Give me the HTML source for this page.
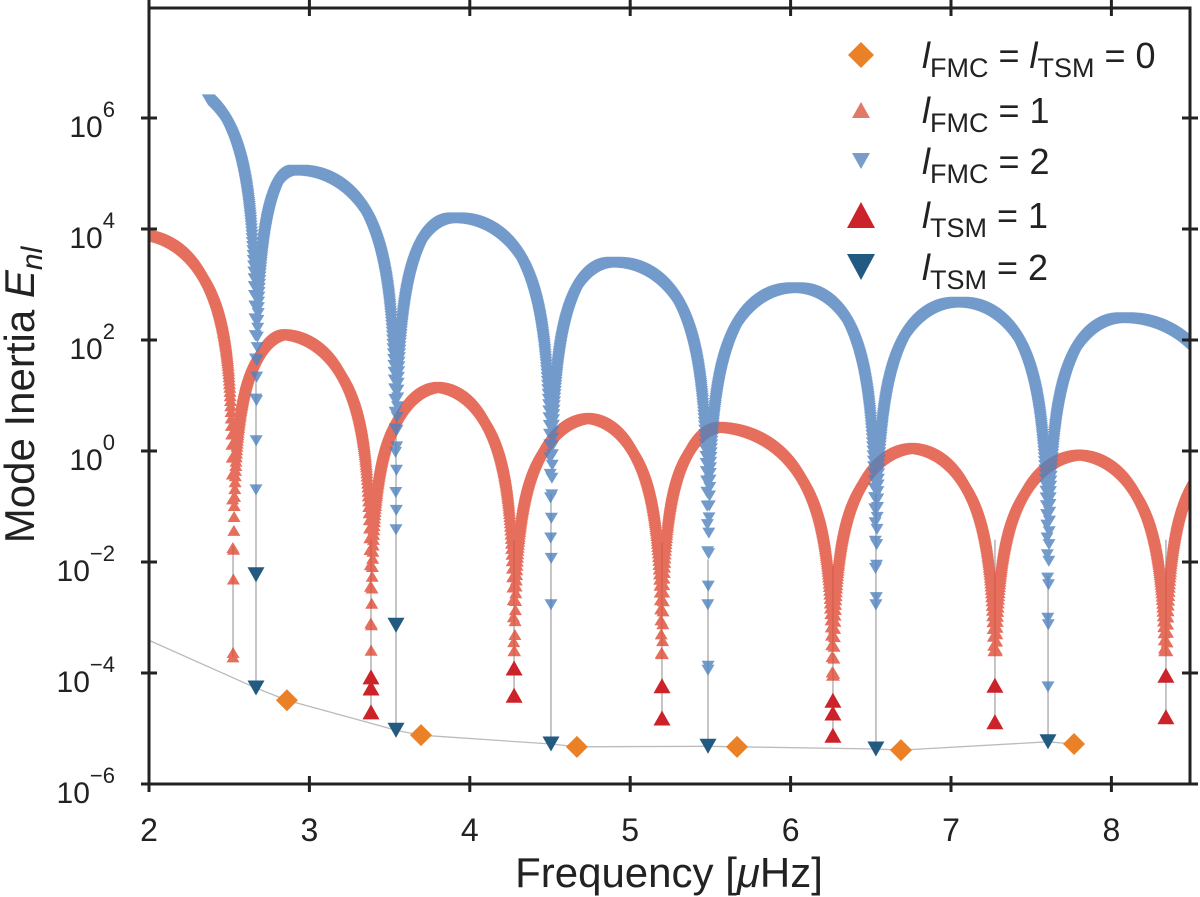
<!DOCTYPE html>
<html><head><meta charset="utf-8">
<style>
html,body{margin:0;padding:0;background:#fff;}
svg{display:block;font-family:"Liberation Sans","DejaVu Sans",sans-serif;}
</style></head>
<body>
<svg id="chart" width="1200" height="897" viewBox="0 0 1200 897" xmlns="http://www.w3.org/2000/svg">
<defs><clipPath id="plotclip"><rect x="150" y="9" width="1040" height="774"/></clipPath></defs>
<g id="plot" clip-path="url(#plotclip)"></g>
<g id="axes"></g>
<g id="legend"></g>
</svg>
<script>
// ---- data (frequency in μHz, values as log10 of mode inertia) ----
const xTicks = [2, 3, 4, 5, 6, 7, 8];
const yTicks = [-6, -4, -2, 0, 2, 4, 6];
// FMC l=2 (blue) arcs
const blueDips = [1.6, 2.667, 3.540, 4.506, 5.485, 6.532, 7.605, 8.79];
const bluePeakF = [2.1, 2.92, 3.91, 4.9, 6.03, 7.05, 8.08];
const bluePeakV = [6.65, 5.06, 4.2, 3.4, 2.94, 2.68, 2.4];
const blueFloor = [null, -0.70, -1.42, -2.77, -3.95, -2.77, -4.25, null];
const blueStart = 2.37;
// FMC l=1 (red) arcs
const redDips = [1.3, 2.524, 3.384, 4.276, 5.198, 6.264, 7.274, 8.340, 9.4];
const redPeakF = [1.95, 2.84, 3.80, 4.74, 5.55, 6.757, 7.80, 8.9];
const redPeakV = [3.9, 2.1, 1.15, 0.59, 0.43, 0.05, -0.07, 0.25];
const redFloor = [null, -3.71, -3.59, -3.6, -3.65, -4.04, -3.6, -3.6, null];
// TSM l=2
const tsm2F = [2.667, 2.667, 3.540, 3.540, 4.506, 5.485, 6.532, 7.605];
const tsm2V = [-2.23, -4.27, -3.14, -5.03, -5.28, -5.32, -5.37, -5.24];
// TSM l=1
const tsm1F = [3.384, 3.384, 3.384, 4.276, 4.276, 5.198, 5.198, 6.264, 6.264, 6.264, 7.274, 7.274, 8.340, 8.340];
const tsm1V = [-4.07, -4.27, -4.70, -3.91, -4.40, -4.23, -4.81, -4.49, -4.72, -5.12, -4.22, -4.88, -4.04, -4.79];
// l=0
const l0F = [2.860, 3.696, 4.668, 5.666, 6.688, 7.767];
const l0V = [-4.49, -5.12, -5.33, -5.33, -5.39, -5.28];
// radial reference line
const lineF = [2.0, 2.667, 2.860, 3.540, 3.696, 4.506, 4.668, 5.485, 5.666, 6.532, 6.688, 7.605, 7.767];
const lineV = [-3.41, -4.27, -4.49, -5.03, -5.12, -5.28, -5.33, -5.32, -5.33, -5.37, -5.39, -5.24, -5.28];

// ---- axes scales ----
const X0 = 149, XS = 160.4, Y0 = 784, YS = 55.5;
const sx = f => X0 + (f - 2) * XS;
const sy = v => Y0 - (v + 6) * YS;
const NS = "http://www.w3.org/2000/svg";
function mk(tag, attrs, parent) {
  const e = document.createElementNS(NS, tag);
  for (const k in attrs) e.setAttribute(k, attrs[k]);
  parent.appendChild(e); return e;
}
const plot = document.getElementById('plot');
const axes = document.getElementById('axes');
const legend = document.getElementById('legend');

function arcVal(f, dips, pf, pv, floors, A) {
  let i = 0;
  while (i < dips.length - 2 && f >= dips[i + 1]) i++;
  const d0 = dips[i], d1 = dips[i + 1], p = pf[i];
  let ph = f < p ? 0.5 * (f - d0) / (p - d0) : 0.5 + 0.5 * (f - p) / (d1 - p);
  const s = Math.sin(Math.PI * ph);
  let v = s > 0 ? pv[i] + A * Math.log10(s) : -99;
  const nd = (f - d0) < (d1 - f) ? i : i + 1;
  const fl = floors[nd];
  if (fl !== null && v < fl) v = fl;
  return v;
}
function tri(cx, cy, w, h, up) {
  cx = +(+cx).toFixed(1); cy = +(+cy).toFixed(1);
  return up ? `M${cx - w},${cy + h / 2}L${cx + w},${cy + h / 2}L${cx},${cy - h / 2}Z`
            : `M${cx - w},${cy - h / 2}L${cx + w},${cy - h / 2}L${cx},${cy + h / 2}Z`;
}

// reference line for l=0
const lp = lineF.map((f, i) => `${i ? 'L' : 'M'}${sx(f).toFixed(1)},${sy(lineV[i]).toFixed(1)}`).join('');
const refLine = mk('path', {d: lp, fill: 'none', stroke: '#bbbbbb', 'stroke-width': 1.3}, plot);



// stems
const stemG = mk('g', {}, plot);


function stems(dips, floors, tF, tV) {
  for (let i = 1; i < dips.length - 1; i++) {
    const d = dips[i];
    let low = floors[i];
    tF.forEach((f, j) => { if (Math.abs(f - d) < 0.01) low = Math.min(low, tV[j]); });
    mk('line', {x1: sx(d), x2: sx(d), y1: sy(floors[i] + 2), y2: sy(low), stroke: '#bfbfbf', 'stroke-width': 1.8}, stemG);
  }
}
stems(redDips, redFloor, tsm1F, tsm1V);
stems(blueDips, blueFloor, tsm2F, tsm2V);

// FMC series as dense markers
function series(dips, pf, pv, floors, A, start, color, up, name) {
  const g = mk('g', {fill: color, 'fill-opacity': 0.8}, plot);
  
  
  let d = '';
  for (let f = start; f <= 8.55; f += 0.0015) {
    const v = arcVal(f, dips, pf, pv, floors, A);
    d += tri(sx(f), sy(v), 6.5, 11, up);
  }
  for (let i = 1; i < dips.length - 1; i++) {
    if (floors[i] !== null) d += tri(sx(dips[i]), sy(floors[i]), 6.5, 11, up);
  }
  mk('path', {d: d}, g);
}
series(redDips, redPeakF, redPeakV, redFloor, 2.2, 1.98, '#e04a35', true, 'fmc-l1-series');
series(blueDips, bluePeakF, bluePeakV, blueFloor, 2.4, blueStart, '#4f82bf', false, 'fmc-l2-series');

// TSM markers
const t1g = mk('g', {fill: '#cc2229'}, plot);


tsm1F.forEach((f, i) => {
  const m = mk('path', {d: tri(sx(f), sy(tsm1V[i]), 8.5, 15, true)}, t1g);
  
  
});
const t2g = mk('g', {fill: '#225a82'}, plot);


tsm2F.forEach((f, i) => {
  const m = mk('path', {d: tri(sx(f), sy(tsm2V[i]), 8.5, 15, false)}, t2g);
  
  
});
const l0g = mk('g', {fill: '#ea8126'}, plot);


l0F.forEach((f, i) => {
  const cx = sx(f), cy = sy(l0V[i]);
  const m = mk('path', {d: `M${cx},${cy - 11}L${cx + 11},${cy}L${cx},${cy + 11}L${cx - 11},${cy}Z`}, l0g);
  
  
});

// axes frame
const frame = mk('rect', {x: 149, y: 8, width: 1041, height: 776, fill: 'none', stroke: '#222', 'stroke-width': 3}, axes);


xTicks.forEach((t, i) => {
  const x = sx(t);
  mk('line', {x1: x, x2: x, y1: 776, y2: 792, stroke: '#222', 'stroke-width': 3}, axes);
  mk('line', {x1: x, x2: x, y1: 0, y2: 16, stroke: '#222', 'stroke-width': 3}, axes);
  const tl = mk('text', {x: x, y: 841, 'text-anchor': 'middle', 'font-size': 32, fill: '#222'}, axes);
  tl.textContent = t;
  
  
});
yTicks.forEach(t => {
  const y = sy(t);
  mk('line', {x1: 141, x2: 157, y1: y, y2: y, stroke: '#222', 'stroke-width': 3}, axes);
  mk('line', {x1: 1182, x2: 1198, y1: y, y2: y, stroke: '#222', 'stroke-width': 3}, axes);
  const tl = mk('text', {x: 115, y: y + 19, 'text-anchor': 'end', 'font-size': 30, fill: '#222'}, axes);
  
  
  tl.innerHTML = `10<tspan dy="-20" font-size="22">${t < 0 ? '\u2212' + (-t) : t}</tspan>`;
});
const xl = mk('text', {x: 669, y: 887, 'text-anchor': 'middle', 'font-size': 42, fill: '#222'}, axes);


xl.innerHTML = 'Frequency [<tspan font-style="italic">μ</tspan>Hz]';
const yl = mk('text', {x: 0, y: 0, 'text-anchor': 'middle', 'font-size': 42, fill: '#222', transform: 'translate(34,395) rotate(-90)'}, axes);


yl.innerHTML = 'Mode Inertia <tspan font-style="italic">E</tspan><tspan font-style="italic" font-size="30" dy="8">nl</tspan>';

// legend
const rows = [
  {y: 55, sub1: 'FMC', rest: ' = <tspan font-style="italic">l</tspan><tspan font-size="27" dy="9">TSM</tspan><tspan dy="-9"> = 0</tspan>', m: 'diamond'},
  {y: 110, sub1: 'FMC', rest: ' = 1', m: 'fmc1'},
  {y: 161, sub1: 'FMC', rest: ' = 2', m: 'fmc2'},
  {y: 215, sub1: 'TSM', rest: ' = 1', m: 'tsm1'},
  {y: 267, sub1: 'TSM', rest: ' = 2', m: 'tsm2'}
];
rows.forEach(r => {
  const g = mk('g', {}, legend);
  
  
  const cx = 861, cy = r.y;
  if (r.m === 'diamond') mk('path', {d: `M${cx},${cy - 13}L${cx + 13},${cy}L${cx},${cy + 13}L${cx - 13},${cy}Z`, fill: '#ea8126'}, g);
  if (r.m === 'fmc1') mk('path', {d: tri(cx, cy, 9, 16, true), fill: '#e07a68'}, g);
  if (r.m === 'fmc2') mk('path', {d: tri(cx, cy, 9, 16, false), fill: '#7a9ccb'}, g);
  if (r.m === 'tsm1') mk('path', {d: tri(cx, cy, 14, 26, true), fill: '#cc2229'}, g);
  if (r.m === 'tsm2') mk('path', {d: tri(cx, cy, 14, 26, false), fill: '#225a82'}, g);
  const t = mk('text', {x: 922, y: cy + 13, 'font-size': 36, fill: '#222'}, g);
  t.innerHTML = `<tspan font-style="italic">l</tspan><tspan font-size="27" dy="9">${r.sub1}</tspan><tspan dy="-9">${r.rest}</tspan>`;
});
</script>
</body></html>
